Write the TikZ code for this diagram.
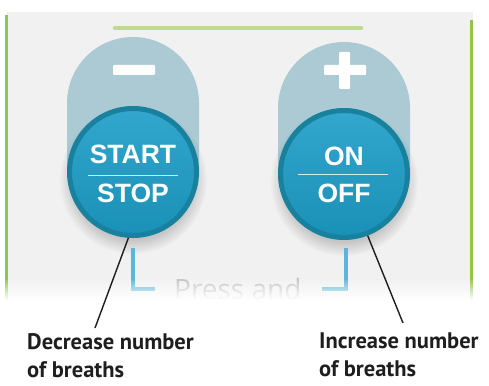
\documentclass[tikz,border=0pt]{standalone}
\usepackage{fontspec}
\setmainfont{PT Sans}
\newfontfamily\btnfont{Liberation Sans}
\newfontfamily\pressfont{Open Sans}
\usetikzlibrary{calc,positioning,fadings}
\definecolor{panelgray}{HTML}{F1F1F1}
\definecolor{leafgreen}{HTML}{8FC74A}
\definecolor{palegreen}{HTML}{BFDA92}
\definecolor{pillblue}{HTML}{ABCAD4}
\definecolor{rimteal}{HTML}{18819D}
\definecolor{faceblue}{HTML}{1C9DC7}
\definecolor{bracketblue}{HTML}{5DB7D4}
\definecolor{presstext}{HTML}{C4C4C4}
\definecolor{inkgray}{HTML}{1E1E1E}
\tikzstyle{button}=[
  circle,
  draw=rimteal,
  line width=5pt,
  minimum size=127pt,
  inner sep=0pt,
  top color=faceblue!90!white,
  bottom color=faceblue!92!black,
]
\tikzstyle{btntext}=[
  font={\btnfont\bfseries\fontsize{26.5}{26.5}\selectfont},
  text=white,
  inner sep=0pt,
  anchor=base,
]
\tikzstyle{divider}=[
  draw=white,
  line width=1pt,
  opacity=.8,
]
\tikzstyle{pill}=[
  fill=pillblue,
]
\tikzstyle{sign}=[
  fill=white,
  rounded corners=1pt,
]
\tikzstyle{bracket}=[
  draw=bracketblue,
  line width=3.5pt,
]
\tikzstyle{callout}=[
  draw=inkgray,
  line width=1.4pt,
]
\tikzstyle{calloutlabel}=[
  font={\bfseries\fontsize{22.5}{28}\selectfont},
  text=inkgray,
  align=left,
  inner sep=0pt,
  anchor=north west,
]
\tikzstyle{presslabel}=[
  font={\pressfont\fontsize{28}{28}\selectfont},
  text=presstext,
  inner sep=0pt,
  anchor=base west,
]

\begin{document}
\begin{tikzpicture}[x=1pt,y=-1pt]
  \useasboundingbox[fill=white] (0,0) rectangle (489,385);
  % panel
  \fill[panelgray] (6,12) rectangle (473,300);
  \draw[leafgreen, line width=3pt] (6.5,15) -- (6.5,300);
  \draw[leafgreen, line width=3pt] (471.5,20) -- (471.5,300);
  \draw[palegreen, line width=4.5pt, line cap=round] (115,28) -- (361,28);
  % pills behind the buttons
  \fill[pill] (67,175) -- (67,103) arc (180:0:66pt) -- (199,175) -- cycle;
  \fill[pill] (278,175) -- (278,108) arc (180:0:66pt) -- (410,175) -- cycle;
  \fill[sign] (113,65) rectangle (155,75);
  \fill[sign] (324,65) rectangle (366,75);
  \fill[sign] (339,52) rectangle (350,89);
  % shadows
  \fill[black, opacity=.18, path fading=circle with fuzzy edge 20 percent] (133,180) circle (74pt);
  \fill[black, opacity=.18, path fading=circle with fuzzy edge 20 percent] (344,182) circle (74pt);
  % buttons
  \node (startstop) [button] at (133,172) {};
  \node (onoff) [button] at (344,174) {};
  \node (start) [btntext] at (133,163) {START};
  \node (stop) [btntext] at (133,202) {STOP};
  \draw[divider] (88,175) -- (178,175);
  \node (on) [btntext] at (344,165) {ON};
  \node (off) [btntext] at (344,202) {OFF};
  \draw[divider] (298,174) -- (388,174);
  % press and hold
  \draw[bracket] (133,248) -- (133,289) -- (155,289);
  \draw[bracket] (346,248) -- (346,289) -- (322,289);
  \node (press) [presslabel] at (174,299) {Press and};
  \fill[white, path fading=north] (0,278) rectangle (489,300);
  \fill[white] (0,300) rectangle (489,385);
  % labels
  \node (decrease) [calloutlabel] at (27,333) {Decrease number\\of breaths};
  \node (increase) [calloutlabel] at (319,333) {Increase number\\of breaths};
  \coordinate (dectip) at (95,328);
  \coordinate (inctip) at (403,323);
  \draw[callout] (startstop.266) -- (dectip);
  \draw[callout] (onoff.291) -- (inctip);
\end{tikzpicture}
\end{document}
